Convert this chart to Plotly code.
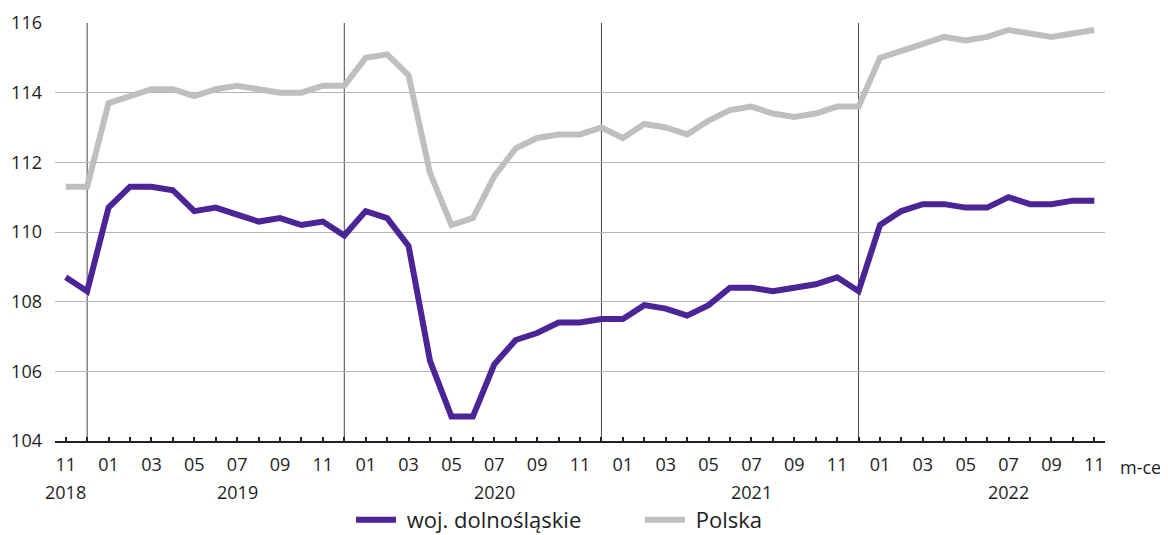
import plotly.graph_objects as go

months = ["2018-11", "2018-12"] + [f"{y}-{m:02d}" for y in (2019, 2020, 2021) for m in range(1, 13)] + [f"2022-{m:02d}" for m in range(1, 12)]

dolnoslaskie = [108.7, 108.3,
                110.7, 111.3, 111.3, 111.2, 110.6, 110.7, 110.5, 110.3, 110.4, 110.2, 110.3, 109.9,
                110.6, 110.4, 109.6, 106.3, 104.7, 104.7, 106.2, 106.9, 107.1, 107.4, 107.4, 107.5,
                107.5, 107.9, 107.8, 107.6, 107.9, 108.4, 108.4, 108.3, 108.4, 108.5, 108.7, 108.3,
                110.2, 110.6, 110.8, 110.8, 110.7, 110.7, 111.0, 110.8, 110.8, 110.9, 110.9]

polska = [111.3, 111.3,
          113.7, 113.9, 114.1, 114.1, 113.9, 114.1, 114.2, 114.1, 114.0, 114.0, 114.2, 114.2,
          115.0, 115.1, 114.5, 111.7, 110.2, 110.4, 111.6, 112.4, 112.7, 112.8, 112.8, 113.0,
          112.7, 113.1, 113.0, 112.8, 113.2, 113.5, 113.6, 113.4, 113.3, 113.4, 113.6, 113.6,
          115.0, 115.2, 115.4, 115.6, 115.5, 115.6, 115.8, 115.7, 115.6, 115.7, 115.8]

series_names = ["woj. dolnośląskie", "Polska"]
y_ticks = [104, 106, 108, 110, 112, 114, 116]
year_labels = {"2018-11": "2018", "2019-07": "2019", "2020-07": "2020", "2021-07": "2021", "2022-07": "2022"}

FONT = "Open Sans, Noto Sans, sans-serif"
PURPLE = "#4b2495"
GRAY = "#bfbfbf"
TXT = "#1e1e1e"

idx = list(range(len(months)))
month_text = [m[5:] if int(m[5:]) % 2 == 1 else "" for m in months]

fig = go.Figure()
fig.add_trace(go.Scatter(x=idx, y=polska, mode="lines", name="\u00a0" + series_names[1],
                         line=dict(color=GRAY, width=6), legendrank=2))
fig.add_trace(go.Scatter(x=idx, y=dolnoslaskie, mode="lines", name="\u00a0" + series_names[0],
                         line=dict(color=PURPLE, width=6), legendrank=1))

# year separators (at December)
for i, m in enumerate(months):
    if m.endswith("-12"):
        fig.add_shape(type="line", xref="x", yref="y", x0=i, x1=i, y0=104, y1=116,
                      line=dict(color="#444444", width=1), layer="below")

# year labels
for i, m in enumerate(months):
    if m in year_labels:
        fig.add_annotation(x=i, xref="x", y=-51 / 418, yref="paper", yanchor="middle",
                           text=year_labels[m], showarrow=False,
                           font=dict(family=FONT, size=18, color=TXT))

fig.add_annotation(x=1.0, xref="paper", xanchor="left", xshift=13, y=-26 / 418, yref="paper",
                   yanchor="middle", text="m-ce", showarrow=False,
                   font=dict(family=FONT, size=18, color=TXT))

fig.update_layout(
    width=1160, height=527,
    margin=dict(l=47, r=63, t=15, b=94, autoexpand=False),
    paper_bgcolor="white", plot_bgcolor="white",
    font=dict(family=FONT, size=18, color=TXT),
    showlegend=True,
    legend=dict(orientation="h", x=343 / 1160, xanchor="left", xref="container",
                y=15 / 527, yanchor="middle", yref="container",
                font=dict(family=FONT, size=22, color=TXT),
                traceorder="normal", itemwidth=40, entrywidth=234, entrywidthmode="pixels"),
    xaxis=dict(range=[-0.5, len(months) - 0.5], tickmode="array", tickvals=idx, ticktext=month_text,
               showgrid=False, zeroline=False, showline=True, linecolor="#222222", linewidth=2,
               ticks="inside", ticklen=4, tickcolor="#222222", tickwidth=1.5,
               ticklabelstandoff=6, fixedrange=True),
    yaxis=dict(range=[104, 116], tickmode="array", tickvals=y_ticks, showgrid=True,
               gridcolor="#b3b3b3", gridwidth=1, zeroline=False, showline=False,
               ticks="", ticklabelstandoff=12, fixedrange=True),
)

fig.write_html("out.html")
